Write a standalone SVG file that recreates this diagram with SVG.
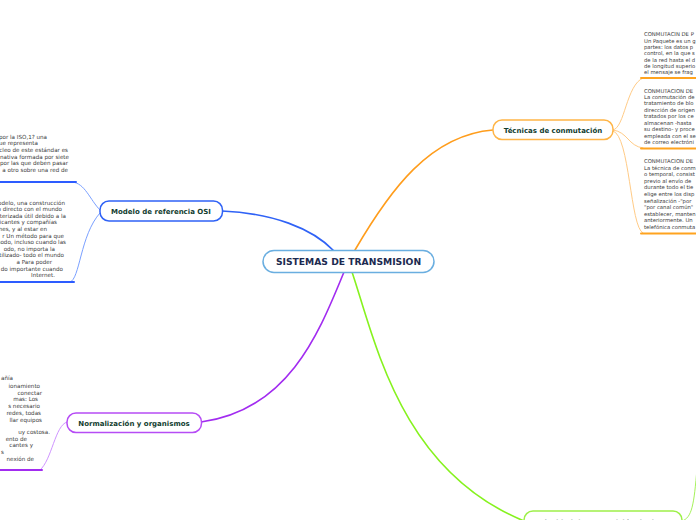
<svg xmlns="http://www.w3.org/2000/svg" width="696" height="520" viewBox="0 0 696 520">
<style>
.t{font-family:"DejaVu Sans",Verdana,sans-serif;font-size:5.3px;fill:#3a3a3a}
.e{text-anchor:end;font-size:5.6px}
.nt{font-family:"DejaVu Sans",Verdana,sans-serif;font-size:7px;font-weight:bold;fill:#123d2f;text-anchor:middle}
.c{fill:none;stroke-linecap:round}
</style>
<rect width="696" height="520" fill="#ffffff"/>
<g id="connectors">
<path class="c" d="M334,251 C312,228 272,213 222,211" stroke="#2f62f6" stroke-width="1.6"/>
<path class="c" d="M355,250 C390,190 430,135 493,130" stroke="#ff9d1c" stroke-width="1.6"/>
<path class="c" d="M344,272 C320,330 290,410 201,422" stroke="#a22cf0" stroke-width="1.6"/>
<path class="c" d="M352,272 C375,340 400,470 524,521" stroke="#86f21e" stroke-width="1.6"/>
<path class="c" d="M100,210 C90,200 85,183 72,182 L0,182" stroke="#7aa0ff" stroke-width="1"/>
<path class="c" d="M100,213 C80,235 80,280 70,282" stroke="#7aa0ff" stroke-width="1"/>
<path class="c" d="M76,182 L0,182" stroke="#2d5cff" stroke-width="2"/>
<path class="c" d="M74,282 L0,282" stroke="#2d5cff" stroke-width="2"/>
<path class="c" d="M67,422 C55,425 52,460 40,470" stroke="#cf94ff" stroke-width="1"/>
<path class="c" d="M42,470 L0,470" stroke="#a22cf0" stroke-width="2"/>
<path class="c" d="M613,130 C625,128 626,85 643,78" stroke="#ffcb86" stroke-width="1"/>
<path class="c" d="M613,130 C628,132 628,146 643,148" stroke="#ffcb86" stroke-width="1"/>
<path class="c" d="M613,131 C630,135 630,228 643,233" stroke="#ffcb86" stroke-width="1"/>
<path class="c" d="M641,78 L697,78" stroke="#ffa31f" stroke-width="2"/>
<path class="c" d="M641,148.5 L697,148.5" stroke="#ffa31f" stroke-width="2"/>
<path class="c" d="M641,233.5 L697,233.5" stroke="#ffa31f" stroke-width="2"/>
<path class="c" d="M682,521 C692,518 694,505 697,468" stroke="#a6f25a" stroke-width="1"/>
</g>
<g id="central">
<rect x="263" y="250.5" width="171" height="22" rx="11" fill="#ffffff" stroke="#6aaee0" stroke-width="1.5"/>
<text x="348.5" y="264.8" text-anchor="middle" font-family="'DejaVu Sans',Verdana,sans-serif" font-size="9.2" font-weight="bold" fill="#1c2a50">SISTEMAS DE TRANSMISION</text>
</g>
<g id="modelo">
<rect x="100" y="201" width="122.5" height="20" rx="9" fill="#ffffff" stroke="#2f62f6" stroke-width="1.5"/>
<text class="nt" x="161" y="213.5">Modelo de referencia OSI</text>
</g>
<g id="tecnicas">
<rect x="493" y="120" width="120" height="19.5" rx="9" fill="#ffffff" stroke="#ffb547" stroke-width="1.5"/>
<text class="nt" x="553" y="132.5">Técnicas de conmutación</text>
</g>
<g id="normalizacion">
<rect x="67" y="413" width="134.5" height="19.5" rx="9" fill="#ffffff" stroke="#b64cf5" stroke-width="1.5"/>
<text class="nt" x="134" y="425.5">Normalización y organismos</text>
</g>
<g id="velocidad">
<rect x="524" y="511" width="158" height="20" rx="9" fill="#ffffff" stroke="#9ef04a" stroke-width="1.5"/>
<text class="nt" x="603" y="524.5">Velocidad de transmisión de datos</text>
</g>
<g id="osi-def">
<text class="t e" x="47" y="138.5">por la ISO,1? una</text>
<text class="t e" x="38" y="145.2">ue representa</text>
<text class="t e" x="68" y="151.9">cleo de este estándar es</text>
<text class="t e" x="69" y="158.6">nativa formada por siete</text>
<text class="t e" x="68" y="165.3">por las que deben pasar</text>
<text class="t e" x="68" y="172">a otro sobre una red de</text>
</g>
<g id="osi-uso">
<text class="t e" x="65" y="204.5">odelo, una construcción</text>
<text class="t e" x="62" y="211.1">o directo con el mundo</text>
<text class="t e" x="66" y="217.7">cterizada útil debido a la</text>
<text class="t e" x="57" y="224.3">ricantes y compañías</text>
<text class="t e" x="47" y="230.9">nes, y al estar en</text>
<text class="t e" x="64" y="237.5">r Un método para que</text>
<text class="t e" x="66" y="244.1">modo, incluso cuando las</text>
<text class="t e" x="55" y="250.7">odo, no importa la</text>
<text class="t e" x="64" y="257.3">tilizado- todo el mundo</text>
<text class="t e" x="52" y="263.9">a Para poder</text>
<text class="t e" x="63" y="270.5">do importante cuando</text>
<text class="t e" x="55" y="277.1">Internet.</text>
</g>
<g id="norm-texto">
<text class="t e" x="13" y="380">añía</text>
<text class="t e" x="40" y="388">ionamiento</text>
<text class="t e" x="42" y="394.7">conectar</text>
<text class="t e" x="38" y="401.4">mas: Los</text>
<text class="t e" x="40" y="408.1">s necesario</text>
<text class="t e" x="41" y="414.8">redes, todas</text>
<text class="t e" x="42" y="421.5">llar equipos</text>
<text class="t e" x="50" y="434">uy costosa.</text>
<text class="t e" x="27" y="440.7">ento de</text>
<text class="t e" x="33" y="447.4">cantes y</text>
<text class="t e" x="4" y="454.1">s</text>
<text class="t e" x="34" y="460.8">nexión de</text>
</g>
<g id="paquetes">
<text class="t" x="644" y="36.3">CONMUTACIN DE P</text>
<text class="t" x="644" y="42.6">Un Paquete es un g</text>
<text class="t" x="644" y="49">partes: los datos p</text>
<text class="t" x="644" y="55.3">control, en la que s</text>
<text class="t" x="644" y="61.6">de la red hasta el d</text>
<text class="t" x="644" y="68">de longitud superio</text>
<text class="t" x="644" y="74.3">el mensaje se frag</text>
</g>
<g id="mensajes">
<text class="t" x="644" y="92.5">CONMUTACION DE</text>
<text class="t" x="644" y="98.9">La conmutación de</text>
<text class="t" x="644" y="105.4">tratamiento de blo</text>
<text class="t" x="644" y="111.8">dirección de origen</text>
<text class="t" x="644" y="118.3">tratados por los ce</text>
<text class="t" x="644" y="124.7">almacenan -hasta</text>
<text class="t" x="644" y="131.2">su destino- y proce</text>
<text class="t" x="644" y="137.6">empleada con el se</text>
<text class="t" x="644" y="144.1">de correo electróni</text>
</g>
<g id="circuitos">
<text class="t" x="644" y="163">CONMUTACION DE</text>
<text class="t" x="644" y="169.6">La técnica de conm</text>
<text class="t" x="644" y="176.2">o temporal, consist</text>
<text class="t" x="644" y="182.8">previo al envío de</text>
<text class="t" x="644" y="189.4">durante todo el tie</text>
<text class="t" x="644" y="196">elige entre los disp</text>
<text class="t" x="644" y="202.6">señalización -&quot;por</text>
<text class="t" x="644" y="209.2">&quot;por canal común&quot;</text>
<text class="t" x="644" y="215.8">establecer, manten</text>
<text class="t" x="644" y="222.4">anteriormente. Un</text>
<text class="t" x="644" y="229">telefónica conmuta</text>
</g>
</svg>
